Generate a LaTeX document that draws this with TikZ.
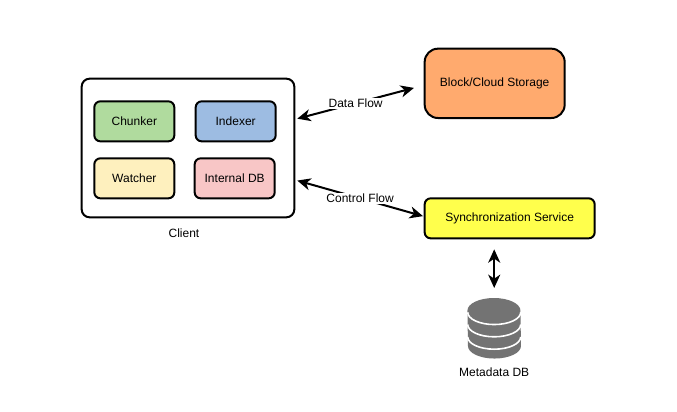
\documentclass[tikz,border=0pt]{standalone}
\usepackage{fontspec}
\setmainfont{Liberation Sans}
\usetikzlibrary{positioning,arrows.meta,calc}
\definecolor{chunkerGreen}{RGB}{176,219,158}
\definecolor{indexerBlue}{RGB}{157,188,226}
\definecolor{watcherYellow}{RGB}{254,240,190}
\definecolor{dbPink}{RGB}{248,198,198}
\definecolor{storageOrange}{RGB}{255,170,110}
\definecolor{syncYellow}{RGB}{255,255,76}
\definecolor{dbGray}{RGB}{115,115,115}
\tikzset{
    box/.style={draw, line width=1.5pt, rounded corners=4.5pt, minimum width=60pt, minimum height=30pt, inner sep=0pt, font=\fontsize{9}{11}\selectfont},
    flow/.style={line width=1.5pt, {Stealth[length=10pt,width=9pt,inset=3pt]}-{Stealth[length=10pt,width=9pt,inset=3pt]}},
    caption/.style={inner sep=0pt, font=\fontsize{9}{11}\selectfont},
    flowlabel/.style={fill=white, inner sep=1pt, font=\fontsize{9}{11}\selectfont}
}
\begin{document}
\begin{tikzpicture}
    \useasboundingbox (0,0) rectangle (507.75pt,-308.25pt);
    \node[box, rounded corners=6pt, minimum width=159.5pt, minimum height=104pt] (client) at (141pt,-111pt) {};
    \node[box, fill=chunkerGreen, anchor=north west] (chunker) at ([xshift=9.5pt,yshift=-17pt]client.north west) {Chunker};
    \node[box, fill=indexerBlue, right=14.5pt of chunker] (indexer) {Indexer};
    \node[box, fill=watcherYellow, below=11.25pt of chunker] (watcher) {Watcher};
    \node[box, fill=dbPink, below=11.25pt of indexer, xshift=-0.75pt] (internalDb) {Internal DB};
    \node[caption, below=7.5pt of client, xshift=-3pt] (clientLabel) {Client};
    \node[box, fill=storageOrange, rounded corners=10pt, minimum width=105pt, minimum height=52pt, anchor=north west] (storage) at ([xshift=96.25pt,yshift=22.5pt]client.north east) {Block/Cloud Storage};
    \node[box, fill=syncYellow, minimum width=127.5pt, right=96.25pt of client.south east] (sync) {Synchronization Service};
    % database drum, three white bands
    \node[minimum width=39.75pt, minimum height=45pt, inner sep=0pt, below=44pt of sync.south, xshift=-11.6pt] (metaDb) {};
    \fill[dbGray] ($(metaDb.north west)+(0,-9.4pt)$) arc[start angle=180, end angle=0, x radius=19.875pt, y radius=9.4pt]
        -- ($(metaDb.south east)+(0,9.4pt)$) arc[start angle=0, end angle=-180, x radius=19.875pt, y radius=9.4pt] -- cycle;
    \foreach \yOff in {12,2.8,-6.5}
        \draw[white, line width=1.2pt] ($(metaDb.center)+(-19.875pt,\yOff pt)$) arc[start angle=180, end angle=360, x radius=19.875pt, y radius=9.2pt];
    \node[caption, below=7pt of metaDb] (metaDbLabel) {Metadata DB};

    \draw[flow, shorten <=1.5pt, shorten >=7.5pt] ([yshift=21.6pt]client.east) -- node[flowlabel, pos=0.47] (dataFlow) {Data Flow} ([yshift=-1.5pt]storage.west);
    \draw[flow, shorten <=1.5pt, shorten >=0.5pt] ([yshift=-24pt]client.east) -- node[flowlabel, pos=0.505] (controlFlow) {Control Flow} ([yshift=1.5pt]sync.west);
    \draw[flow, shorten <=7.5pt, shorten >=7.5pt] (metaDb.north |- sync.south) -- (metaDb.north);
\end{tikzpicture}
\end{document}
